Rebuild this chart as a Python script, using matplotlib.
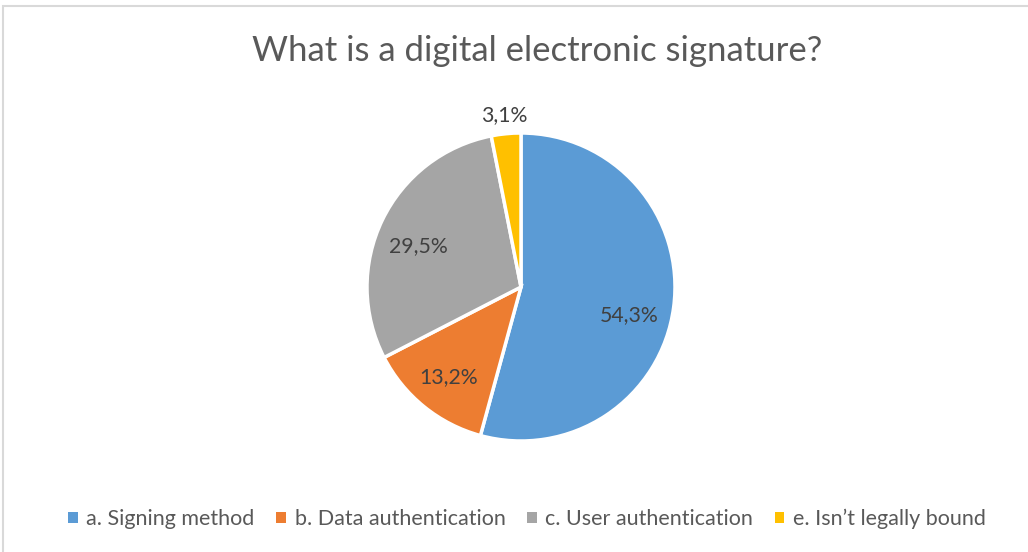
import numpy as np
import matplotlib.pyplot as plt
from matplotlib.patches import Rectangle

plt.rcParams['font.family'] = ['Lato', 'DejaVu Sans']

categories = ["a. Signing method", "b. Data authentication",
              "c. User authentication", "e. Isn\u2019t legally bound"]
shares = [54.3, 13.2, 29.5, 3.1]
labels = ["54,3%", "13,2%", "29,5%", "3,1%"]
colors = ["#5B9BD5", "#ED7D31", "#A5A5A5", "#FFC000"]
# label placement: distance from centre (in radii) and angular nudge (deg)
label_radius = [0.725, 0.75, 0.72, 1.12]
label_nudge = [-6.8, 0.0, 3.9, 0.0]

W, H = 1028, 552
fig = plt.figure(figsize=(W / 100, H / 100), dpi=100, facecolor="white")

# thin frame around the chart area
fig.add_artist(Rectangle((3 / W, -0.1), 1.2, (H - 6) / H + 0.1, transform=fig.transFigure,
                         fill=False, edgecolor="#D9D9D9", lw=1.5))

cx, cy, r = 521, 287, 154
ax = fig.add_axes([(cx - r) / W, (H - cy - r) / H, 2 * r / W, 2 * r / H])

wedges, _ = ax.pie(shares, colors=colors, startangle=90, counterclock=False,
                   radius=1, wedgeprops=dict(edgecolor="white", linewidth=2.5))
ax.set_xlim(-1, 1)
ax.set_ylim(-1, 1)
ax.set_aspect("equal")
ax.axis("off")

total = sum(shares)
cum = np.cumsum([0] + shares[:-1])
for c, v, lab, d, nd in zip(cum, shares, labels, label_radius, label_nudge):
    ang = np.deg2rad(90 - (c + v / 2) / total * 360 + nd)
    ax.text(d * np.cos(ang), d * np.sin(ang), lab, ha="center", va="center",
            fontsize=15.3, color="#404040")

fig.text(537 / W, 1 - 51 / H, "What is a digital electronic signature?", ha="center", va="center",
         fontsize=25, color="#595959")

leg = fig.legend(wedges, categories, loc="center", bbox_to_anchor=(527 / W, 1 - 519 / H),
                 ncol=4, frameon=False, fontsize=15.5, handlelength=0.45, handleheight=0.45,
                 handletextpad=0.4, columnspacing=1.0, labelcolor="#595959")
for h in leg.legend_handles:
    h.set_edgecolor("none")

fig.savefig("out.png", dpi=100, facecolor="white")
